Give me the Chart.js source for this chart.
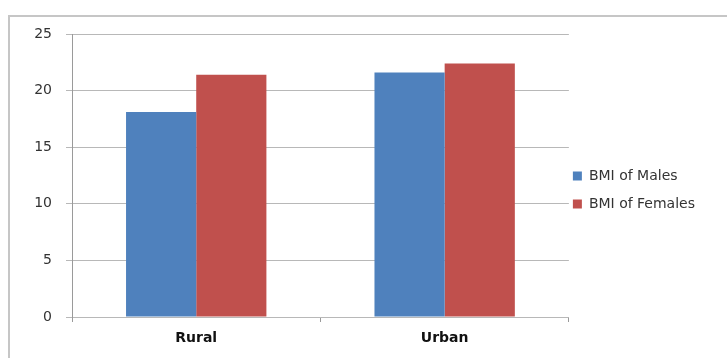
<!DOCTYPE html>
<html>
<head>
<meta charset="utf-8">
<script src="https://cdn.jsdelivr.net/npm/chart.js@4.4.1/dist/chart.umd.min.js"></script>
<style>
  html, body { margin: 0; padding: 0; background: #fff; }
  canvas { display: block; }
</style>
</head>
<body>
<canvas id="myChart" width="727" height="358"></canvas>
<script>
const categories = ['Rural', 'Urban'];
const bmiMales = [18.1, 21.6];
const bmiFemales = [21.4, 22.4];
const yTicks = [0, 5, 10, 15, 20, 25];

// grey frame of the chart object, cut off at right and bottom
const framePlugin = {
  id: 'frame',
  beforeDraw(chart) {
    const ctx = chart.ctx;
    ctx.save();
    ctx.strokeStyle = '#c6c6c6';
    ctx.lineWidth = 2;
    ctx.strokeRect(9, 16, chart.width + 20, chart.height + 20);
    ctx.restore();
  }
};

// nudge the legend closer to the plot area like Excel does
const legendShift = {
  id: 'legendShift',
  afterLayout(chart) {
    chart.legend.left -= 10;
    chart.legend.right -= 10;
  }
};

const ctx = document.getElementById('myChart').getContext('2d');
new Chart(ctx, {
  type: 'bar',
  data: {
    labels: categories,
    datasets: [{
      label: 'BMI of Males',
      data: bmiMales,
      backgroundColor: '#4f81bd',
      borderWidth: 0,
    }, {
      label: 'BMI of Females',
      data: bmiFemales,
      backgroundColor: '#c0504d',
      borderWidth: 0,
    }],
  },
  options: {
    responsive: false,
    animation: false,
    layout: {
      padding: { left: 10, top: 34, right: 12, bottom: 12 }
    },
    datasets: {
      bar: { barPercentage: 1, categoryPercentage: 0.565 }
    },
    plugins: {
      tooltip: { enabled: false },
      legend: {
        position: 'right',
        labels: {
          boxWidth: 9,
          boxHeight: 9,
          padding: 14,
          color: '#333333',
          font: { family: 'DejaVu Sans', size: 14 },
        },
      },
    },
    scales: {
      x: {
        afterFit(scale) { scale.height = 29; },
        grid: {
          display: true,
          drawOnChartArea: false,
          tickLength: 5,
          color: '#9a9a9a',
        },
        border: { display: false },
        ticks: {
          padding: 8,
          color: '#111111',
          font: { family: 'DejaVu Sans', size: 14, weight: 'bold' },
        },
      },
      y: {
        min: 0,
        max: 25,
        afterFit(scale) { scale.width = 62; },
        afterBuildTicks(scale) { scale.ticks = yTicks.map(v => ({ value: v })); },
        grid: {
          color: '#b8b8b8',
          tickLength: 6,
        },
        border: { display: true, color: '#9a9a9a' },
        ticks: {
          padding: 14,
          color: '#333333',
          font: { family: 'DejaVu Sans', size: 14 },
        },
      },
    },
  },
  plugins: [framePlugin, legendShift],
});
</script>
</body>
</html>
